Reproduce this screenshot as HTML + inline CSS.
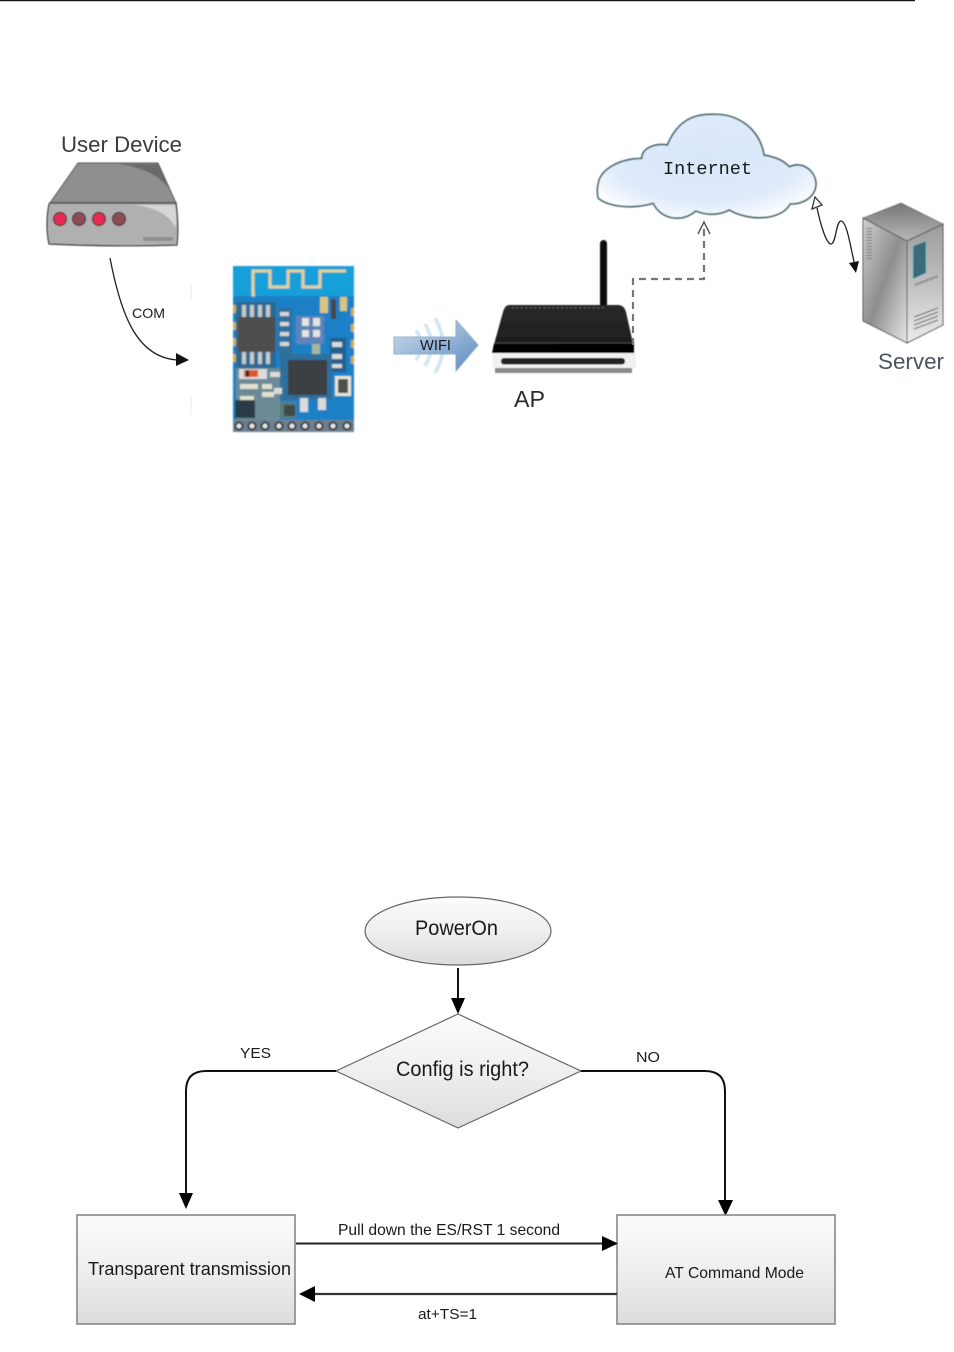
<!DOCTYPE html>
<html><head><meta charset="utf-8"><style>
html,body{margin:0;padding:0;background:#fff}
svg{display:block}
text{font-family:"Liberation Sans",sans-serif;fill:#1a1a1a}
</style></head><body>
<svg width="954" height="1352" viewBox="0 0 954 1352" xmlns="http://www.w3.org/2000/svg">
<defs>
<linearGradient id="box" x1="0" y1="0" x2="0" y2="1"><stop offset="0" stop-color="#fbfbfb"/><stop offset=".5" stop-color="#efefef"/><stop offset="1" stop-color="#dcdcdc"/></linearGradient>
<radialGradient id="cloud" cx=".5" cy=".42" r=".62"><stop offset="0" stop-color="#d8e6fa"/><stop offset=".7" stop-color="#e0ebfb"/><stop offset="1" stop-color="#fcfdff"/></radialGradient>
<linearGradient id="wifi" x1="0" y1="0" x2="1" y2="1"><stop offset="0" stop-color="#cbdcee"/><stop offset="1" stop-color="#4f81b8"/></linearGradient>
<linearGradient id="srvL" x1="0" y1="0" x2="1" y2="1"><stop offset="0" stop-color="#d0d0d0"/><stop offset=".5" stop-color="#8e8e8e"/><stop offset="1" stop-color="#e6e6e6"/></linearGradient>
<linearGradient id="srvR" x1="0" y1="0" x2="0" y2="1"><stop offset="0" stop-color="#9c9c9c"/><stop offset=".5" stop-color="#c0c0c0"/><stop offset="1" stop-color="#ececec"/></linearGradient>
<linearGradient id="srvT" x1="0" y1="0" x2="0" y2="1"><stop offset="0" stop-color="#767676"/><stop offset="1" stop-color="#b8b8b8"/></linearGradient>
<linearGradient id="rtr" x1="0" y1="0" x2="0" y2="1"><stop offset="0" stop-color="#2a2a2a"/><stop offset="1" stop-color="#1c1c1c"/></linearGradient>
<filter id="b"><feGaussianBlur stdDeviation=".5"/></filter>
<filter id="b2"><feGaussianBlur stdDeviation=".9"/></filter>
</defs>

<rect x="0" y="0" width="915" height="1.2" fill="#111"/>
<path d="M191 285V300M191 395V415" stroke="#e8e8e8" stroke-width="1"/>

<!-- user device -->
<text x="61" y="152" font-size="22" textLength="121" lengthAdjust="spacingAndGlyphs" style="fill:#3c3c3c">User Device</text>
<g filter="url(#b)">
<path d="M78 163H158L176 203H50Z" fill="#8f8f8f" stroke="#555"/>
<path d="M118 164H158L176 203C170 182 150 168 118 164Z" fill="#6a6a6a"/>
<path d="M50 203H176Q179 225 177 245Q110 247 49 244Q45 225 49 204Z" fill="#b0b0b0" stroke="#333" stroke-width="1.2"/>
<path d="M134 205H175Q177 215 176 228C170 216 156 207 134 205Z" fill="#d6d6d6"/>
<circle cx="60" cy="219" r="6.5" fill="#e82a55" stroke="#4a3a3a" stroke-width="1.2"/>
<circle cx="79" cy="219" r="6.500" fill="#8c4c54" stroke="#4a3a3a" stroke-width="1.2"/>
<circle cx="99" cy="219" r="6.5" fill="#e82a55" stroke="#4a3a3a" stroke-width="1.2"/>
<circle cx="119" cy="219" r="6.500" fill="#8c4c54" stroke="#4a3a3a" stroke-width="1.2"/>
<rect x="143" y="237" width="30" height="4" fill="#8e8e8e"/>
</g>

<!-- COM -->
<path d="M110 258C120 310 135 358 178 360" fill="none" stroke="#222" stroke-width="1.3"/>
<path d="M176 353L189 360L176 366Z" fill="#111"/>
<text x="132" y="318" font-size="14" textLength="33" lengthAdjust="spacingAndGlyphs">COM</text>

<!-- board -->
<g filter="url(#b2)">
<rect x="233" y="266" width="121" height="166" fill="#1f80c6"/>
<rect x="233" y="266" width="121" height="30" fill="#129fd8"/>
<path d="M255 295H253V271H270V287H288V271H303V287H320V271H346" fill="none" stroke="#ddd29a" stroke-width="3"/>
<rect x="320" y="297" width="8" height="16" fill="#d9c67a"/>
<rect x="340" y="297" width="7" height="14" fill="#d9c67a"/>
<rect x="331" y="299" width="5" height="20" fill="#444"/>
<rect x="236" y="302" width="40" height="66" fill="#2a6a92"/>
<path d="M242 305h4v12h-4zM250 305h4v12h-4zM258 305h4v12h-4zM266 305h4v12h-4zM242 352h4v12h-4zM250 352h4v12h-4zM258 352h4v12h-4zM266 352h4v12h-4z" fill="#c9c9c9"/>
<rect x="238" y="317" width="37" height="35" fill="#4e4e4e"/>
<rect x="278" y="308" width="14" height="46" fill="#2f6f9c"/>
<path d="M280 312h9v4h-9zM280 322h9v4h-9zM280 332h9v4h-9zM280 342h9v4h-9z" fill="#d8d8d8"/>
<rect x="296" y="316" width="28" height="28" fill="#5f84b8"/>
<path d="M302 318h7v8h-7zM313 318h7v8h-7zM302 330h7v7h-7zM313 330h7v7h-7z" fill="#e4e4e4"/>
<rect x="312" y="344" width="8" height="14" fill="#a8b89c"/>
<rect x="330" y="338" width="16" height="34" fill="#215f8e"/>
<path d="M332 342h10v5h-10zM332 354h10v5h-10zM332 364h10v4h-10z" fill="#dadada"/>
<path d="M280 354h52v46h-52z" fill="#2f6f9c"/>
<rect x="288" y="360" width="39" height="35" fill="#3c3f42"/>
<rect x="335" y="376" width="16" height="20" fill="#e6e6d8"/>
<rect x="338" y="379" width="10" height="14" fill="#50504a"/>
<rect x="236" y="368" width="44" height="52" fill="#6a8a96"/>
<rect x="239" y="369" width="28" height="10" fill="#ddd"/>
<rect x="244" y="370" width="14" height="7" fill="#e0562a"/>
<rect x="246" y="370" width="3" height="7" fill="#222"/>
<path d="M240 384h18v5h-18zM262 384h10v5h-10zM240 396h14v4h-14zM262 392h12v5h-12z" fill="#e2e2d0"/>
<rect x="235" y="400" width="20" height="18" fill="#2a3a44"/>
<rect x="280" y="402" width="16" height="16" fill="#5a7a78"/>
<rect x="284" y="405" width="11" height="11" fill="#3e4a4c"/>
<path d="M270 372h10v5h-10zM274 388h8v6h-8zM300 398h8v14h-8zM318 398h8v12h-8z" fill="#dcdcdc"/>
<rect x="233" y="420" width="121" height="12" fill="#6d8090"/>
<g fill="#e8e8e8" stroke="#2a2a2a" stroke-width="2">
<circle cx="239" cy="426" r="3.5"/><circle cx="252" cy="426" r="3.5"/><circle cx="265" cy="426" r="3.5"/><circle cx="279" cy="426" r="3.5"/><circle cx="292" cy="426" r="3.5"/><circle cx="305" cy="426" r="3.5"/><circle cx="319" cy="426" r="3.5"/><circle cx="333" cy="426" r="3.5"/><circle cx="347" cy="426" r="3.5"/>
</g>
<g fill="#c9ad5c">
<rect x="233" y="305" width="3" height="8"/><rect x="233" y="322" width="3" height="8"/><rect x="233" y="338" width="3" height="8"/><rect x="233" y="354" width="3" height="8"/>
<rect x="351" y="308" width="3" height="8"/><rect x="351" y="324" width="3" height="8"/><rect x="351" y="340" width="3" height="8"/><rect x="351" y="356" width="3" height="8"/>
</g>
</g>

<!-- WIFI arrow -->
<g filter="url(#b)">
<g fill="none" stroke="#cfe6f6" stroke-width="3.5">
<path d="M416 330Q426 345 416 360"/><path d="M425 324Q438 345 425 366"/><path d="M435 318Q451 345 435 373"/>
</g>
<path d="M394 337H456V320L478 345L456 371V354H394Z" fill="url(#wifi)" fill-opacity=".92" stroke="#7a9cc0" stroke-width=".8"/>
</g>
<text x="420" y="350" font-size="15" textLength="31" lengthAdjust="spacingAndGlyphs">WIFI</text>

<!-- router -->
<g filter="url(#b)">
<rect x="600" y="240" width="7" height="68" rx="3.5" fill="#111"/>
<path d="M509 305H618Q624 305 626 312L634 348H493L503 312Q505 305 509 305Z" fill="url(#rtr)"/>
<path d="M512 308H606" stroke="#666" stroke-width="1.2" stroke-dasharray="1.5 3"/>
<path d="M494 344L634 343V353H492Z" fill="#060606"/>
<path d="M494 343H634" stroke="#555" stroke-width=".8"/>
<path d="M492 353H635L636 368H493Z" fill="#f0f0f0"/>
<rect x="501" y="358" width="124" height="6.500" rx="3" fill="#222"/>
<rect x="495" y="368" width="137" height="5" fill="#8a8a8a"/>
</g>
<text x="514" y="407" font-size="23" textLength="31" lengthAdjust="spacingAndGlyphs" style="fill:#2c2c2c">AP</text>

<!-- dashed -->
<path d="M633 345V279H704V226" fill="none" stroke="#777" stroke-width="2.2" stroke-dasharray="7 5"/>
<path d="M698 234L704 222L710 234" fill="none" stroke="#555" stroke-width="1.4"/>

<!-- cloud -->
<path d="M598.300 183.300C600 172 615 159 641.700 158.300C642 148 655 143 667.300 145C680 115 700 114 716.700 114.300C740 115 760 130 764 155C775 157 783 160 789.300 166.700C802 161 815 170 816 183.300C816 196 805 204 790 204C782 220 750 222 729.300 210C718 216 705 215 696 211C680 224 660 218 653.300 203.300C630 210 608 206 598.300 198.300C597 193 597 188 598.300 183.300Z" fill="url(#cloud)" stroke="#4a6a70" stroke-width="1.7" filter="url(#b)"/>
<text x="663" y="174" font-size="18.500" textLength="89" lengthAdjust="spacingAndGlyphs" style="font-family:'Liberation Mono',monospace">Internet</text>

<!-- wave -->
<path d="M817 208C820 222 826 244 831 244C836 244 836 221 841 221C847 221 851 250 855 266" fill="none" stroke="#222" stroke-width="1.3"/>
<path d="M812 209L815 197L822 205Z" fill="#fff" stroke="#333" stroke-width="1.3"/>
<path d="M849 263L859 261L856 273Z" fill="#111"/>

<!-- server -->
<g filter="url(#b)">
<path d="M863 218L901 203L943 224L907 241Z" fill="url(#srvT)" stroke="#666" stroke-width=".6"/>
<path d="M863 218L907 241V343L863 321Z" fill="url(#srvL)" stroke="#555"/>
<path d="M907 241L943 224V325L907 343Z" fill="url(#srvR)" stroke="#555"/>
<path d="M913 246L926 241V273L913 279Z" fill="#3b6b78" stroke="#6cc" stroke-width=".6"/>
<path d="M915 285L938 276" stroke="#777" stroke-width="2.4" stroke-dasharray="1.5 1"/>
<path d="M914 317L938 308M914 321L938 312M914 325L938 316M914 329L938 320" stroke="#666" stroke-width="1"/>
<path d="M869 228V261" stroke="#777" stroke-width="6" stroke-dasharray="1 2"/>
</g>
<text x="878" y="369" font-size="22" textLength="66" lengthAdjust="spacingAndGlyphs" style="fill:#4a5560">Server</text>

<!-- flowchart -->
<ellipse cx="458" cy="931" rx="93" ry="34" fill="url(#box)" stroke="#666" stroke-width="1.2"/>
<text x="415" y="935" font-size="21" textLength="83" lengthAdjust="spacingAndGlyphs">PowerOn</text>
<path d="M458 968V1000" stroke="#111" stroke-width="2"/>
<path d="M451 998H465L458 1014Z" fill="#000"/>
<path d="M458 1014L581 1071L458 1128L336 1071Z" fill="url(#box)" stroke="#666" stroke-width="1.2"/>
<text x="396" y="1076" font-size="21" textLength="133" lengthAdjust="spacingAndGlyphs">Config is right?</text>
<path d="M336 1071H206Q186 1071 186 1091V1195" fill="none" stroke="#111" stroke-width="2"/>
<path d="M179 1193H193L186 1209Z" fill="#000"/>
<path d="M581 1071H705Q725 1071 725 1091V1202" fill="none" stroke="#111" stroke-width="2"/>
<path d="M718 1200H733L725.500 1216Z" fill="#000"/>
<text x="240" y="1058" font-size="15" textLength="31" lengthAdjust="spacingAndGlyphs">YES</text>
<text x="636" y="1062" font-size="15" textLength="24" lengthAdjust="spacingAndGlyphs">NO</text>
<rect x="77" y="1215" width="218" height="109" fill="url(#box)" stroke="#888" stroke-width="1.6"/>
<rect x="617" y="1215" width="218" height="109" fill="url(#box)" stroke="#888" stroke-width="1.6"/>
<text x="88" y="1275" font-size="18" textLength="203" lengthAdjust="spacingAndGlyphs">Transparent transmission</text>
<text x="665" y="1278" font-size="16" textLength="139" lengthAdjust="spacingAndGlyphs">AT Command Mode</text>
<text x="338" y="1235" font-size="16" textLength="222" lengthAdjust="spacingAndGlyphs">Pull down the ES/RST 1 second</text>
<text x="418" y="1319" font-size="15" textLength="59" lengthAdjust="spacingAndGlyphs">at+TS=1</text>
<path d="M296 1243.500H604" stroke="#222" stroke-width="2"/>
<path d="M602 1236V1251L618 1243.500Z" fill="#000"/>
<path d="M617 1294H312" stroke="#333" stroke-width="2.2"/>
<path d="M315 1286V1302L299 1294Z" fill="#000"/>
</svg>
</body></html>
